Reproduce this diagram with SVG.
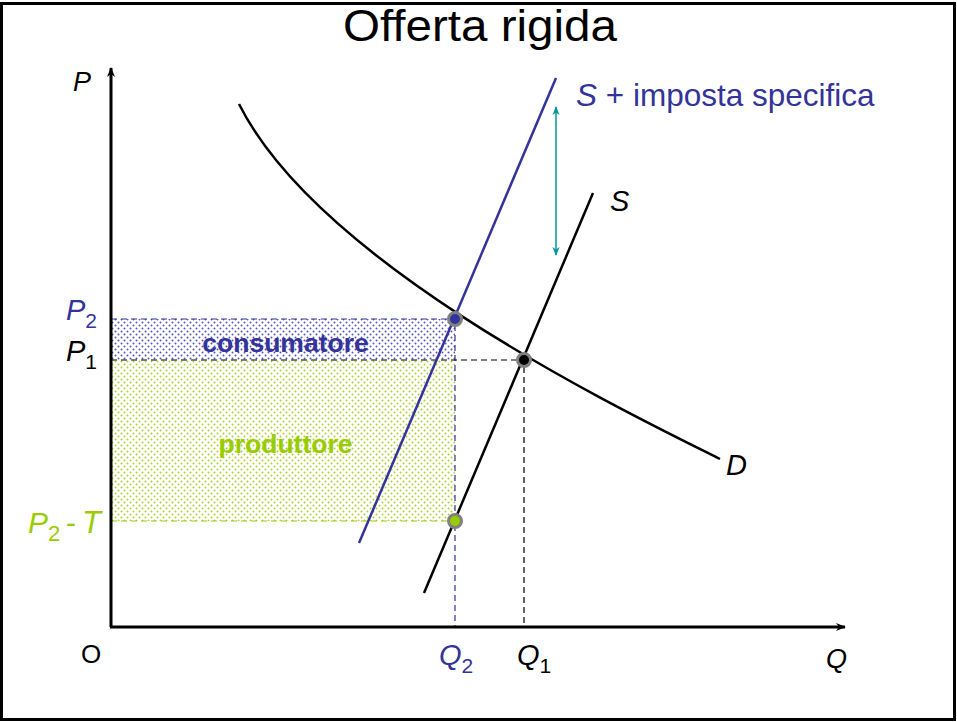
<svg xmlns="http://www.w3.org/2000/svg" width="957" height="722" viewBox="0 0 957 722">
<defs>
<style>
text{font-family:"Liberation Sans",Arial,sans-serif}
.it{font-style:italic}
.axis{stroke:#000;stroke-width:3;fill:none}
.blk{stroke:#000;stroke-width:2.5;fill:none}
.blu{stroke:#333399;stroke-width:2.5;fill:none}
.dash{stroke-width:1.2;stroke-dasharray:6 4;fill:none}
.dot{stroke:#808080;stroke-width:3}
</style>
<pattern id="pb" width="6" height="6" patternUnits="userSpaceOnUse">
<circle cx="1.5" cy="1.5" r="1" fill="#5555bb"/>
<circle cx="4.5" cy="4.5" r="1" fill="#5555bb"/>
</pattern>
<pattern id="pg" width="6" height="6" patternUnits="userSpaceOnUse">
<circle cx="1.5" cy="1.5" r="1" fill="#a8d030"/>
<circle cx="4.5" cy="4.5" r="1" fill="#a8d030"/>
</pattern>
<marker id="ah" viewBox="0 0 10 10" refX="9" refY="5" markerWidth="10" markerHeight="10" markerUnits="userSpaceOnUse" orient="auto">
<path d="M0,1 L10,5 L0,9 L3,5 Z" fill="#000"/>
</marker>
<marker id="at" viewBox="0 0 10 10" refX="9" refY="5" markerWidth="9" markerHeight="9" markerUnits="userSpaceOnUse" orient="auto-start-reverse">
<path d="M0,1 L10,5 L0,9 L3,5 Z" fill="#009999"/>
</marker>
</defs>
<rect x="0" y="0" width="957" height="722" fill="#fff"/>
<rect x="1.5" y="3.5" width="953" height="716" fill="none" stroke="#000" stroke-width="3"/>
<text x="343" y="41" font-size="44" textLength="274" lengthAdjust="spacingAndGlyphs">Offerta rigida</text>

<g id="areas">
<rect x="111" y="319" width="344" height="41" fill="url(#pb)"/>
<rect x="111" y="360" width="344" height="161" fill="url(#pg)"/>
<text x="285.5" y="352" font-size="26.5" font-weight="bold" fill="#333399" text-anchor="middle">consumatore</text>
<text x="285.5" y="453" font-size="26.5" font-weight="bold" fill="#99cc00" text-anchor="middle">produttore</text>
</g>

<g id="connectors">
<path class="dash" stroke="#333399" d="M111,319 H455 V627"/>
<path class="dash" stroke="#000" d="M111,360 H524 V627"/>
<path class="dash" stroke="#99cc00" d="M111,521 H455"/>
<line x1="556" y1="107" x2="556" y2="255" stroke="#009999" stroke-width="1.5" marker-start="url(#at)" marker-end="url(#at)"/>
</g>

<g id="axes">
<line class="axis" x1="111" y1="627" x2="111" y2="68" marker-end="url(#ah)"/>
<line class="axis" x1="110" y1="627" x2="845" y2="627" marker-end="url(#ah)"/>
<text x="73" y="91" font-size="27" class="it">P</text>
<text x="81" y="663" font-size="26">O</text>
<text x="826" y="668" font-size="27" class="it">Q</text>
</g>

<g id="demand">
<path class="blk" d="M239,104 C319,264 620,409 720,459"/>
<text x="726" y="475" font-size="29" class="it">D</text>
</g>

<g id="supply">
<line class="blk" x1="424" y1="593" x2="593" y2="193"/>
<text x="610" y="211" font-size="29" class="it">S</text>
</g>

<g id="supply-tax">
<line class="blu" x1="359" y1="543" x2="556" y2="78"/>
<text x="576" y="106" font-size="31.5" fill="#333399"><tspan class="it">S</tspan> + imposta specifica</text>
</g>

<g id="labels">
<text x="66" y="320" font-size="29" fill="#333399"><tspan class="it">P</tspan><tspan font-size="21" dy="8">2</tspan></text>
<text x="66" y="361" font-size="29" fill="#000"><tspan class="it">P</tspan><tspan font-size="21" dy="8">1</tspan></text>
<text x="28" y="533" font-size="30" fill="#99cc00"><tspan class="it">P</tspan><tspan font-size="22" dy="8">2</tspan><tspan x="66" dy="-8">-</tspan><tspan x="82" class="it" font-size="31">T</tspan></text>
<text x="439" y="665" font-size="29" fill="#333399"><tspan class="it">Q</tspan><tspan font-size="21" dy="8">2</tspan></text>
<text x="517" y="665" font-size="29" fill="#000"><tspan class="it">Q</tspan><tspan font-size="21" dy="8">1</tspan></text>
</g>

<g id="points">
<circle class="dot" cx="455" cy="319" r="6.5" fill="#333399"/>
<circle class="dot" cx="524" cy="360" r="6.5" fill="#000"/>
<circle class="dot" cx="455" cy="521" r="6.5" fill="#99cc00"/>
</g>
</svg>
